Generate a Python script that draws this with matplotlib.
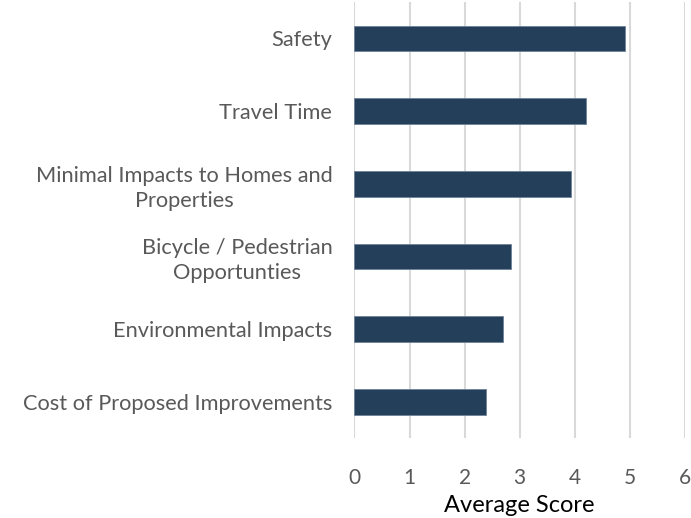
import numpy as np
from matplotlib import pyplot as plt

# categories top to bottom as shown
categories = ["Safety", "Travel Time", "Minimal Impacts to Homes and\nProperties",
              "Bicycle / Pedestrian\nOpportunties", "Environmental Impacts",
              "Cost of Proposed Improvements"]
scores = [4.92, 4.21, 3.94, 2.85, 2.70, 2.39]
x_ticks = [0, 1, 2, 3, 4, 5, 6]

plt.rcParams['font.family'] = ['Lato', 'DejaVu Sans']
text_color = "#595959"

fig = plt.figure(figsize=(6.91, 5.18), dpi=100)
ax = fig.add_axes([0.513, 0.154, 0.478, 0.842])

y = np.arange(len(categories))
ax.barh(y, scores, height=0.35, color="#243F5A", edgecolor="#6F8299", linewidth=0.6, zorder=3)
ax.set_ylim(len(categories) - 0.5, -0.5)
ax.set_xlim(0, 6)
ax.set_xticks(x_ticks)
ax.set_yticks(y)
ax.set_yticklabels(categories, multialignment="center", linespacing=1.3)
ax.tick_params(axis="y", length=0, pad=16, labelsize=15.7, labelcolor=text_color)
ax.tick_params(axis="x", length=0, pad=21.5, labelsize=15, labelcolor=text_color)
ax.grid(axis="x", color="#D9D9D9", linewidth=1.5, zorder=0)
for s in ax.spines.values():
    s.set_visible(False)
ax.set_xlabel("Average Score", fontsize=17, color="black", va="center")
ax.xaxis.set_label_coords(0.5, -0.154)

plt.savefig("out.png", dpi=100)
